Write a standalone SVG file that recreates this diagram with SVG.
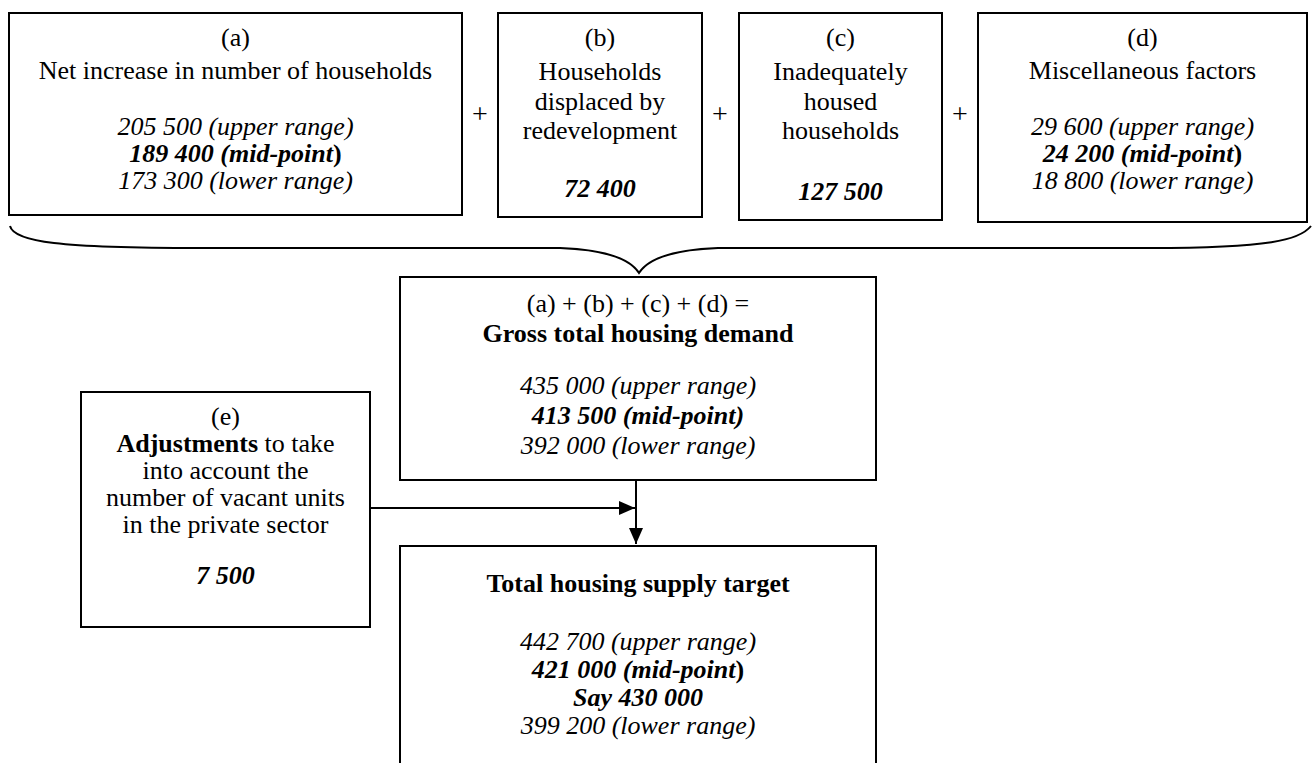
<svg xmlns="http://www.w3.org/2000/svg" width="1312" height="763" viewBox="0 0 1312 763">
<style>
text{font-family:"Liberation Serif","Times New Roman",serif;font-size:26px;fill:#000;text-anchor:middle}
.i{font-style:italic}
.b{font-weight:bold}
.bi{font-weight:bold;font-style:italic}
.pl{font-size:28px}
.box{fill:#fff;stroke:#000;stroke-width:2}
.ln{fill:none;stroke:#000;stroke-width:2}
</style>
<defs>
<marker id="ah" markerUnits="userSpaceOnUse" markerWidth="16" markerHeight="14" refX="16" refY="7" orient="auto">
<path d="M0,0 L16,7 L0,14 z" fill="#000"/>
</marker>
</defs>
<g id="node-a">
<rect class="box" x="9" y="13" width="453" height="202"/>
<text x="235.5" y="46">(a)</text>
<text x="235.5" y="79">Net increase in number of households</text>
<text x="235.5" y="135" class="i">205 500 (upper range)</text>
<text x="235.5" y="162" class="bi">189 400 (mid-point<tspan class="b" font-style="normal">)</tspan></text>
<text x="235.5" y="189" class="i">173 300 (lower range)</text>
</g>
<g id="plus-1"><text class="pl" x="480" y="123">+</text></g>
<g id="node-b">
<rect class="box" x="498" y="13" width="204" height="204"/>
<text x="600" y="46">(b)</text>
<text x="600" y="80">Households</text>
<text x="600" y="110">displaced by</text>
<text x="600" y="139">redevelopment</text>
<text x="600" y="197" class="bi">72 400</text>
</g>
<g id="plus-2"><text class="pl" x="720" y="123">+</text></g>
<g id="node-c">
<rect class="box" x="739" y="13" width="203" height="207"/>
<text x="840.5" y="46">(c)</text>
<text x="840.5" y="80">Inadequately</text>
<text x="840.5" y="110">housed</text>
<text x="840.5" y="139">households</text>
<text x="840.5" y="200" class="bi">127 500</text>
</g>
<g id="plus-3"><text class="pl" x="960" y="123">+</text></g>
<g id="node-d">
<rect class="box" x="978" y="13" width="329" height="209"/>
<text x="1142.5" y="46">(d)</text>
<text x="1142.5" y="79">Miscellaneous factors</text>
<text x="1142.5" y="135" class="i">29 600 (upper range)</text>
<text x="1142.5" y="162" class="bi">24 200 (mid-point<tspan class="b" font-style="normal">)</tspan></text>
<text x="1142.5" y="189" class="i">18 800 (lower range)</text>
</g>
<g id="connectors">
<path class="ln" d="M10,226 C14,242 60,248 200,248 L560,248 C612,250 632,262 639,273 C646,262 666,250 718,248 L1150,248 C1270,248 1300,240 1311,226"/>
<line class="ln" x1="370" y1="508" x2="635" y2="508" marker-end="url(#ah)"/>
<line class="ln" x1="636" y1="480" x2="636" y2="544" marker-end="url(#ah)"/>
</g>
<g id="node-gross">
<rect class="box" x="400" y="277" width="476" height="203"/>
<text x="638" y="312">(a) + (b) + (c) + (d) =</text>
<text x="638" y="342" class="b">Gross total housing demand</text>
<text x="638" y="394" class="i">435 000 (upper range)</text>
<text x="638" y="424" class="bi">413 500 (mid-point)</text>
<text x="638" y="454" class="i">392 000 (lower range)</text>
</g>
<g id="node-e">
<rect class="box" x="81" y="392" width="289" height="235"/>
<text x="225.5" y="425">(e)</text>
<text x="225.5" y="452"><tspan class="b">Adjustments</tspan> to take</text>
<text x="225.5" y="479">into account the</text>
<text x="225.5" y="506">number of vacant units</text>
<text x="225.5" y="533">in the private sector</text>
<text x="225.5" y="584" class="bi">7 500</text>
</g>
<g id="node-target">
<rect class="box" x="400" y="546" width="476" height="230"/>
<text x="638" y="592" class="b">Total housing supply target</text>
<text x="638" y="650" class="i">442 700 (upper range)</text>
<text x="638" y="678" class="bi">421 000 (mid-point<tspan class="b" font-style="normal">)</tspan></text>
<text x="638" y="706" class="bi">Say 430 000</text>
<text x="638" y="734" class="i">399 200 (lower range)</text>
</g>
</svg>
